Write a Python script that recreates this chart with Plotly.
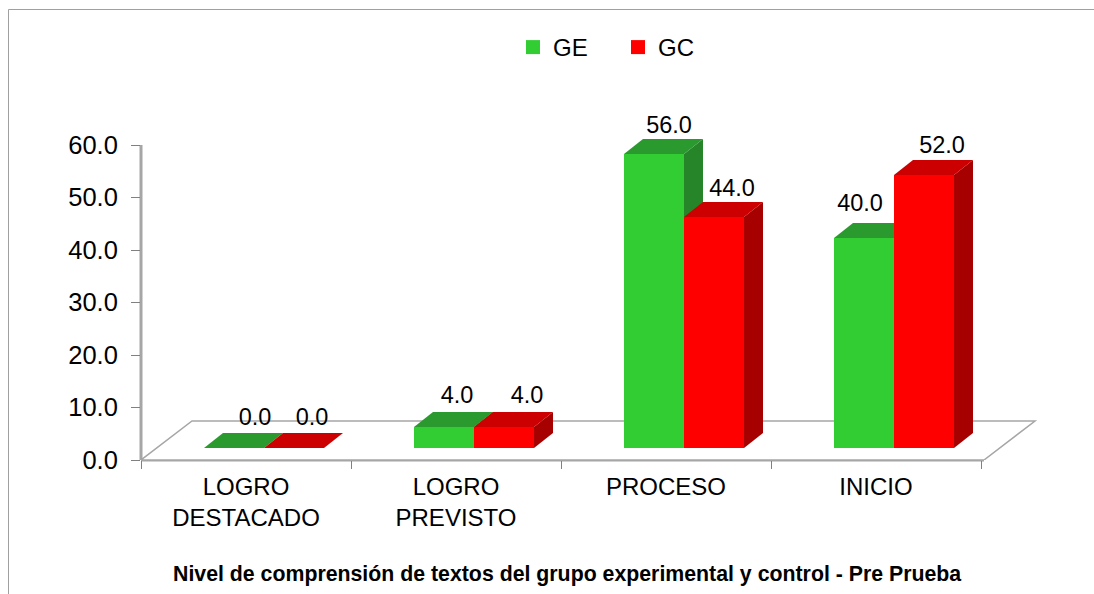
import plotly.graph_objects as go

# ---- data ----
categories = ["LOGRO<br>DESTACADO", "LOGRO<br>PREVISTO", "PROCESO", "INICIO"]
series_names = ["GE", "GC"]
ge_values = [0.0, 4.0, 56.0, 40.0]
gc_values = [0.0, 4.0, 44.0, 52.0]
y_ticks = [0, 10, 20, 30, 40, 50, 60]
title_text = "Nivel de comprensión de textos del grupo experimental y control - Pre Prueba"

# ---- page geometry (pixels) ----
W, H = 1094, 594
L, R, T, B = 141, 1060, 100, 460      # plot rectangle
PX_PER_CAT = 210.0
PX_PER_UNIT = 5.25
X0, X1 = -0.5, -0.5 + (R - L) / PX_PER_CAT
Y0, Y1 = 0.0, (B - T) / PX_PER_UNIT

def ux(px):  # horizontal pixels -> category units
    return px / PX_PER_CAT
def uy(px):  # vertical pixels -> value units
    return px / PX_PER_UNIT
def paper_x(px):
    return (px - L) / (R - L)
def paper_y(py):
    return (B - py) / (B - T)

BAR_W = ux(60)
BAR_CENTER = ux(123)         # shared edge of the pair, from the category's left edge
BASE = uy(12)                # bars stand on the floor, above the axis
DX, DY = ux(19), uy(15)      # depth of the bars
FLOOR_DX, FLOOR_DY = ux(51), uy(39)

GREEN, GREEN_TOP, GREEN_SIDE = "#32CD32", "#2A9A2E", "#268528"
RED, RED_TOP, RED_SIDE = "#FF0000", "#CC0000", "#A60000"
AXIS = "#A6A6A6"
FONT = "Liberation Sans, Arial, sans-serif"

fig = go.Figure()

def add_series(name, values, color, top_c, side_c, x_axis, y_axis, left_shift):
    xs = [i - 0.5 + BAR_CENTER + left_shift for i in range(len(values))]
    fig.add_trace(go.Bar(
        x=xs, y=values, base=[BASE] * len(values), width=BAR_W, offset=0,
        marker=dict(color=color, line=dict(width=0)),
        xaxis=x_axis, yaxis=y_axis, showlegend=False, hoverinfo="skip",
    ))
    for x, v in zip(xs, values):
        top = BASE + v
        fig.add_trace(go.Scatter(
            x=[x + BAR_W, x + BAR_W + DX, x + BAR_W + DX, x + BAR_W, x + BAR_W],
            y=[BASE, BASE + DY, top + DY, top, BASE],
            mode="lines", fill="toself", fillcolor=side_c, line=dict(width=0),
            xaxis=x_axis, yaxis=y_axis, showlegend=False, hoverinfo="skip",
        ))
        fig.add_trace(go.Scatter(
            x=[x, x + DX, x + BAR_W + DX, x + BAR_W, x],
            y=[top, top + DY, top + DY, top, top],
            mode="lines", fill="toself", fillcolor=top_c, line=dict(width=0),
            xaxis=x_axis, yaxis=y_axis, showlegend=False, hoverinfo="skip",
        ))

add_series("GE", ge_values, GREEN, GREEN_TOP, GREEN_SIDE, "x", "y", -BAR_W)
add_series("GC", gc_values, RED, RED_TOP, RED_SIDE, "x2", "y2", 0.0)

# data labels (hand placed in the source chart: pixel nudges)
ge_nudge = [(21, 29), (13, 30), (15, 27), (-4, 33)]
gc_nudge = [(18, 29), (23, 30), (18, 27), (18, 28)]
lab_x, lab_y, lab_t = [], [], []
for i, (g, c) in enumerate(zip(ge_values, gc_values)):
    x_g = i - 0.5 + BAR_CENTER - BAR_W / 2
    x_c = i - 0.5 + BAR_CENTER + BAR_W / 2
    lab_x += [x_g + ux(ge_nudge[i][0]), x_c + ux(gc_nudge[i][0])]
    lab_y += [BASE + g + uy(ge_nudge[i][1]), BASE + c + uy(gc_nudge[i][1])]
    lab_t += [f"{g:.1f}", f"{c:.1f}"]
fig.add_trace(go.Scatter(
    x=lab_x, y=lab_y, text=lab_t, mode="text", textposition="middle center",
    textfont=dict(size=23.5, color="#000000", family=FONT),
    xaxis="x2", yaxis="y2", showlegend=False, hoverinfo="skip", cliponaxis=False,
))

# legend entries
for name, color in zip(series_names, [GREEN, RED]):
    fig.add_trace(go.Scatter(
        x=[None], y=[None], name=name, mode="markers",
        marker=dict(symbol="square", size=14, color=color, line=dict(width=0)),
        xaxis="x", yaxis="y",
    ))

# floor and axis lines
shapes = []
fx0, fx1 = X0, 3.5 + ux(3)
shapes.append(dict(type="path", layer="below", xref="x", yref="y",
                   path=f"M {fx0} 0 L {fx1} 0 L {fx1 + FLOOR_DX} {FLOOR_DY} L {fx0 + FLOOR_DX} {FLOOR_DY} Z",
                   fillcolor="#FFFFFF", line=dict(color=AXIS, width=1.5)))
shapes.append(dict(type="line", layer="below", xref="paper", yref="paper",
                   x0=0, x1=(fx1 - X0) / (X1 - X0), y0=0, y1=0,
                   line=dict(color=AXIS, width=3)))
shapes.append(dict(type="line", layer="below", xref="paper", yref="paper",
                   x0=0, x1=0, y0=0, y1=y_ticks[-1] / Y1,
                   line=dict(color=AXIS, width=3)))
# outer chart-area border
border = "#A0A0A0"
shapes.append(dict(type="line", xref="paper", yref="paper", x0=paper_x(8.5), x1=paper_x(8.5),
                   y0=paper_y(9.5), y1=paper_y(594), line=dict(color=border, width=1)))
shapes.append(dict(type="line", xref="paper", yref="paper", x0=paper_x(8.5), x1=paper_x(1094),
                   y0=paper_y(9.5), y1=paper_y(9.5), line=dict(color=border, width=1)))

fig.update_layout(
    width=W, height=H,
    margin=dict(l=L, r=W - R, t=T, b=H - B, pad=0, autoexpand=False),
    paper_bgcolor="#FFFFFF", plot_bgcolor="rgba(0,0,0,0)",
    font=dict(family=FONT, color="#000000"),
    barmode="overlay",
    shapes=shapes,
    hovermode=False,
    xaxis=dict(range=[X0, X1], tickvals=[0, 1, 2, 3], ticktext=categories, ticks="",
               ticklabelstandoff=10,
               tickfont=dict(size=24, family=FONT), showgrid=False, zeroline=False, showline=False,
               minor=dict(tickvals=[-0.5, 0.5, 1.5, 2.5, 3.5], ticks="outside", ticklen=8,
                          tickcolor="#808080", tickwidth=1, showgrid=False),
               fixedrange=True),
    yaxis=dict(range=[Y0, Y1], tickvals=y_ticks, ticktext=[f"{v:.1f}" for v in y_ticks], ticks="outside",
               ticklen=9, tickcolor="#808080", tickwidth=1, ticklabelstandoff=8,
               tickfont=dict(size=25.5, family=FONT), showgrid=False, zeroline=False, showline=False,
               fixedrange=True),
    xaxis2=dict(range=[X0, X1], overlaying="x", visible=False, fixedrange=True),
    yaxis2=dict(range=[Y0, Y1], overlaying="y", visible=False, fixedrange=True),
    legend=dict(orientation="h", x=paper_x(513), xanchor="left", y=paper_y(25), yanchor="top",
                font=dict(size=24, family=FONT), itemsizing="trace",
                entrywidth=60, entrywidthmode="pixels", bgcolor="rgba(0,0,0,0)", traceorder="normal"),
    annotations=[dict(text=f"<b>{title_text}</b>", xref="paper", yref="paper", x=paper_x(567), y=paper_y(574),
                      xanchor="center", yanchor="middle", showarrow=False,
                      font=dict(size=21.3, family=FONT, color="#000000"))],
)

fig.write_html("out.html", post_script="document.body.style.margin='0';",
               config=dict(displayModeBar=False))
